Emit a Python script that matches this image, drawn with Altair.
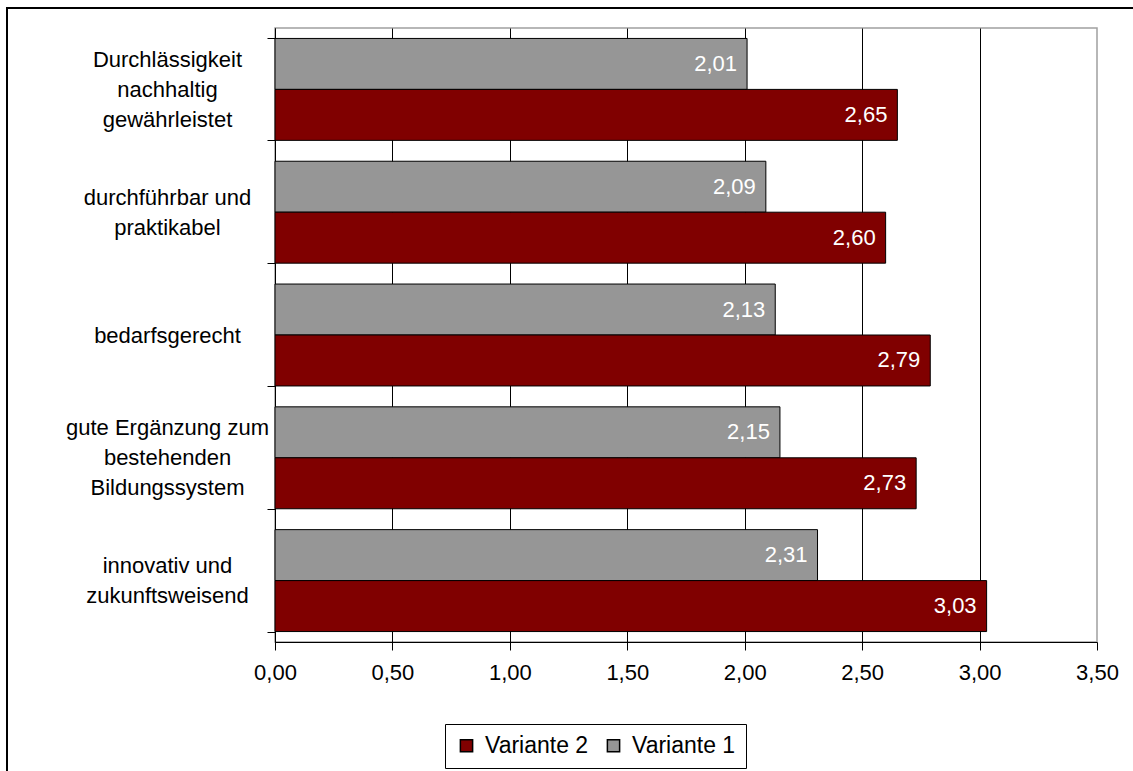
import altair as alt
import pandas as pd

# Category labels ("|" marks a line break) and series values
categories = [
    "Durchlässigkeit|nachhaltig|gewährleistet",
    "durchführbar und|praktikabel",
    "bedarfsgerecht",
    "gute Ergänzung zum|bestehenden|Bildungssystem",
    "innovativ und|zukunftsweisend",
]
variante_1 = [2.01, 2.09, 2.13, 2.15, 2.31]
variante_2 = [2.65, 2.60, 2.79, 2.73, 3.03]
series = ["Variante 2", "Variante 1"]
series_colors = ["#800000", "#969696"]
x_ticks = [0.0, 0.5, 1.0, 1.5, 2.0, 2.5, 3.0, 3.5]

rows = []
for cat, v1, v2 in zip(categories, variante_1, variante_2):
    rows.append({"kategorie": cat, "variante": "Variante 1", "wert": v1})
    rows.append({"kategorie": cat, "variante": "Variante 2", "wert": v2})
df = pd.DataFrame(rows)

FONT = "Liberation Sans"
W, H = 822, 614
LINE_H = 30
n_lines = "length(split(datum.label, '|'))"

y_enc = alt.Y(
    "kategorie:N",
    sort=categories,
    scale=alt.Scale(paddingInner=0.17, paddingOuter=0.085),
    axis=alt.Axis(
        title=None,
        tickBand="extent",
        tickSize=8,
        tickColor="black",
        domainColor="black",
        labelAlign="center",
        labelBaseline="middle",
        labelPadding=100,
        labelFont=FONT,
        labelFontSize=22,
        labelLineHeight=LINE_H,
        labelColor="black",
        labelLimit=300,
        labelExpr="split(datum.label, '|')",
        # shift multi-line labels up so the whole block is centred on the band
        labelOffset={
            "condition": [
                {"test": f"{n_lines} == 3", "value": -LINE_H},
                {"test": f"{n_lines} == 2", "value": -LINE_H / 2},
            ],
            "value": 0,
        },
    ),
)
y_off = alt.YOffset(
    "variante:N",
    sort=["Variante 1", "Variante 2"],
    scale=alt.Scale(paddingInner=0, paddingOuter=0),
)
x_enc = alt.X(
    "wert:Q",
    scale=alt.Scale(domain=[0, 3.5], nice=False, zero=True),
    axis=alt.Axis(
        title=None,
        values=x_ticks,
        tickSize=8,
        tickColor="black",
        domainColor="black",
        grid=True,
        gridColor="black",
        gridOpacity={"condition": {"test": "datum.value >= 3.5", "value": 0}, "value": 1},
        labelFont=FONT,
        labelFontSize=22,
        labelColor="black",
        labelPadding=12,
        labelFlush=False,
        labelExpr="replace(format(datum.value, '.2f'), '.', ',')",
    ),
)

bars = alt.Chart(df).mark_bar(stroke="black", strokeWidth=1).encode(
    y=y_enc,
    yOffset=y_off,
    x=x_enc,
    color=alt.Color(
        "variante:N",
        scale=alt.Scale(domain=series, range=series_colors),
        legend=alt.Legend(
            title=None,
            orient="none",
            legendX=170,
            legendY=696,
            direction="horizontal",
            symbolType="square",
            symbolSize=150,
            symbolStrokeColor="black",
            symbolStrokeWidth=1.5,
            labelFont=FONT,
            labelFontSize=23,
            labelColor="black",
            labelOffset=7,
            columnPadding=13,
            strokeColor="black",
            fillColor="white",
            padding=10,
        ),
    ),
)

labels = (
    alt.Chart(df)
    .transform_calculate(beschriftung="replace(format(datum.wert, '.2f'), '.', ',')")
    .mark_text(align="right", baseline="middle", dx=-10, color="white", font=FONT, fontSize=22)
    .encode(y=y_enc, yOffset=y_off, x=alt.X("wert:Q"), text="beschriftung:N")
)

# Outer frame of the whole figure
frame = (
    alt.Chart(pd.DataFrame({"f": [0]}))
    .mark_rect(fill=None, stroke="black", strokeWidth=2)
    .encode(
        x=alt.value(-268), x2=alt.value(W + 60),
        y=alt.value(-20), y2=alt.value(H + 160),
    )
)

chart = (
    alt.layer(bars, labels, frame)
    .properties(
        width=W,
        height=H,
        autosize=alt.AutoSizeParams(type="none"),
        padding={"left": 275, "top": 28, "right": 36, "bottom": 129},
        background="white",
    )
    .configure_view(stroke="#a0a0a0", strokeWidth=1.5)
)

chart.save("out.html", embed_options={"renderer": "svg", "actions": False})
